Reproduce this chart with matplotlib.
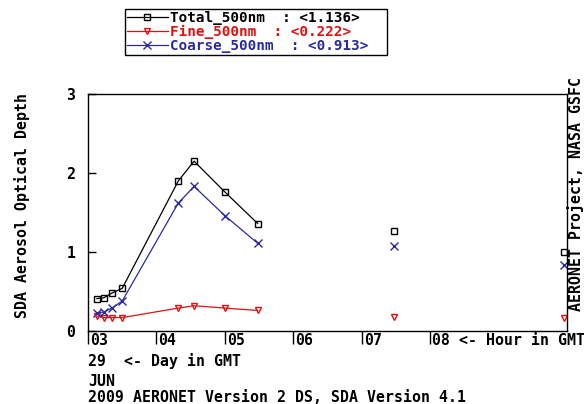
import matplotlib
matplotlib.use("Agg")
import matplotlib.pyplot as plt
import matplotlib.transforms as mtransforms
import numpy as np

# ---- data (hour in GMT, 29 Jun 2009) ----
hours = [3.13, 3.23, 3.35, 3.50, 4.32, 4.55, 5.00, 5.48, 7.47, 9.95]
total_500 = [0.41, 0.42, 0.48, 0.54, 1.90, 2.15, 1.76, 1.36, 1.26, 1.00]
fine_500 = [0.19, 0.17, 0.17, 0.17, 0.29, 0.32, 0.29, 0.26, 0.18, 0.17]
coarse_500 = [0.23, 0.24, 0.29, 0.38, 1.62, 1.83, 1.46, 1.11, 1.07, 0.84]

series_names = ["Total_500nm", "Fine_500nm", "Coarse_500nm"]
series_means = ["1.136", "0.222", "0.913"]
xtick_vals = [3, 4, 5, 6, 7, 8]
xtick_labels = ["03", "04", "05", "06", "07", "08 <- Hour in GMT"]
ytick_vals = [0, 1, 2, 3]
ytick_labels = ["0", "1", "2", "3"]
max_gap = 1.0  # hours; points farther apart are not connected

FONT = "DejaVu Sans Mono"
FS = 10.7
LFS = 10.3
plt.rcParams["font.family"] = [FONT]
plt.rcParams["font.weight"] = "bold"

W, H = 584, 404
fig = plt.figure(figsize=(W / 100, H / 100), dpi=100)
ax = fig.add_axes([88 / W, 1 - 331 / H, (567 - 88) / W, (331 - 94) / H])

colors = ["#000000", "#e01010", "#2a2aa0"]
markers = ["s", "v", "x"]
msizes = [4.2, 5, 6]
data = [total_500, fine_500, coarse_500]

x = np.array(hours)
# split into connected segments
breaks = np.where(np.diff(x) > max_gap)[0] + 1
seg_idx = np.split(np.arange(len(x)), breaks)

handles = []
for vals, c, m, ms in zip(data, colors, markers, msizes):
    y = np.array(vals)
    for k, idx in enumerate(seg_idx):
        ln, = ax.plot(x[idx], y[idx], color=c, lw=0.9, marker=m, ms=ms,
                      mfc="none", mec=c, mew=1.0)
        if k == 0:
            handles.append(ln)

ax.set_xlim(3, 10)
ax.set_ylim(0, 3)
for s in ax.spines.values():
    s.set_linewidth(1.0)
    s.set_color("black")

ax.set_xticks(xtick_vals)
ax.set_xticklabels(xtick_labels, fontsize=FS, fontweight="bold")
ax.tick_params(axis="x", direction="out", length=9, width=1, pad=-7.5)
offset = mtransforms.ScaledTranslation(2 / 100, 0, fig.dpi_scale_trans)
for lab in ax.get_xticklabels():
    lab.set_ha("left")
    lab.set_transform(lab.get_transform() + offset)

ax.set_yticks(ytick_vals)
ax.set_yticklabels(ytick_labels, fontsize=FS, fontweight="bold")
ax.tick_params(axis="y", direction="in", length=6, width=1, pad=9)

# axis labels and annotations
fig.text(22 / W, 1 - 206 / H, "SDA Aerosol Optical Depth", rotation=90,
         ha="center", va="center", fontsize=FS, fontweight="bold")
fig.text(576 / W, 1 - 194 / H, "AERONET Project, NASA GSFC", rotation=90,
         ha="center", va="center", fontsize=FS, fontweight="bold")
fig.text(88 / W, 1 - 361 / H, "29  <- Day in GMT", ha="left", va="center",
         fontsize=FS, fontweight="bold")
fig.text(88 / W, 1 - 381 / H, "JUN", ha="left", va="center",
         fontsize=FS, fontweight="bold")
fig.text(88 / W, 1 - 398 / H, "2009 AERONET Version 2 DS, SDA Version 4.1",
         ha="left", va="center", fontsize=FS, fontweight="bold")

labels = [f"{n}  : <{v}>  " for n, v in zip(series_names, series_means)]
leg = fig.legend(handles, labels, loc="upper left",
                 bbox_to_anchor=(125 / W, 1 - 9 / H), borderaxespad=0,
                 fontsize=LFS, frameon=True, fancybox=False, framealpha=1,
                 edgecolor="black", borderpad=0.12, handlelength=2.9,
                 handletextpad=0.1, labelspacing=0.0, numpoints=1)
leg.get_frame().set_linewidth(1.0)
for t, c in zip(leg.get_texts(), colors):
    t.set_color(c)
    t.set_fontweight("bold")

fig.savefig("out.png", dpi=100)
